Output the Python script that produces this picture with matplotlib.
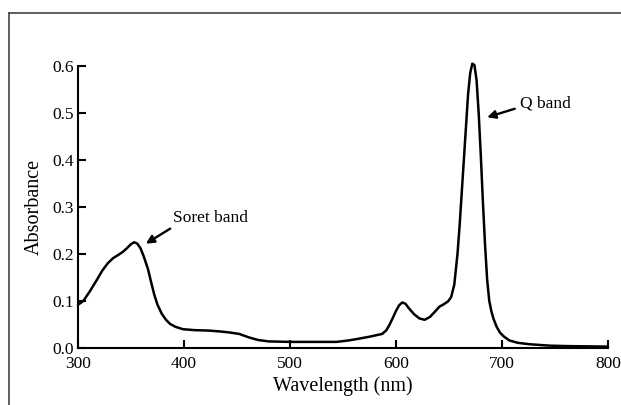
import matplotlib
matplotlib.use("Agg")
import matplotlib.pyplot as plt
from matplotlib.lines import Line2D

wavelength = [300, 305, 311, 317, 323, 328, 333, 338, 342, 346, 350, 353, 356, 359, 362,
              366, 369, 372, 375, 379, 383, 387, 392, 399, 410, 424, 435, 443, 452, 462,
              470, 480, 500, 520, 544, 555, 563, 575, 587, 591, 594, 597, 600, 603, 606,
              609, 612, 617, 622, 627, 632, 637, 641, 645, 649, 652, 655, 658, 660, 662,
              664, 666, 668, 670, 672, 674, 676, 678, 680, 682, 684, 686, 688, 690, 692,
              695, 698, 702, 707, 715, 726, 745, 763, 800]
absorbance = [0.092, 0.100, 0.120, 0.142, 0.165, 0.180, 0.191, 0.198, 0.204, 0.212, 0.221,
              0.225, 0.222, 0.212, 0.195, 0.168, 0.140, 0.113, 0.092, 0.073, 0.060, 0.051,
              0.045, 0.040, 0.038, 0.037, 0.035, 0.033, 0.030, 0.022, 0.017, 0.014, 0.013,
              0.013, 0.013, 0.016, 0.019, 0.024, 0.030, 0.038, 0.050, 0.064, 0.079, 0.091,
              0.097, 0.094, 0.085, 0.072, 0.063, 0.060, 0.066, 0.078, 0.088, 0.093, 0.099,
              0.108, 0.135, 0.20, 0.26, 0.33, 0.40, 0.47, 0.54, 0.585, 0.605, 0.602, 0.57,
              0.50, 0.41, 0.31, 0.22, 0.145, 0.10, 0.078, 0.062, 0.045, 0.033, 0.024, 0.016,
              0.011, 0.008, 0.005, 0.004, 0.003]

x_ticks = [300, 400, 500, 600, 700, 800]
y_ticks = [0.0, 0.1, 0.2, 0.3, 0.4, 0.5, 0.6]

plt.rcParams['font.family'] = ['Liberation Serif', 'DejaVu Serif']

fig = plt.figure(figsize=(6.21, 4.05), dpi=100)
ax = fig.add_axes([78/621, 1-348/405, (608-78)/621, (348-66)/405])

ax.plot(wavelength, absorbance, color='black', lw=1.8, clip_on=False,
        solid_joinstyle='round', solid_capstyle='round')

ax.set_xlim(300, 800)
ax.set_ylim(0, 0.6)
ax.set_xticks(x_ticks)
ax.set_xticklabels([str(t) for t in x_ticks])
ax.set_yticks(y_ticks)
ax.set_yticklabels([f"{t:.1f}" for t in y_ticks])

for s in ['top', 'right']:
    ax.spines[s].set_visible(False)
for s in ['left', 'bottom']:
    ax.spines[s].set_linewidth(1.5)

ax.tick_params(axis='both', direction='in', length=6, width=1.5, labelsize=12.5, pad=3)
ax.tick_params(axis='x', pad=6)

ax.set_xlabel('Wavelength (nm)', fontsize=14.5, labelpad=3)
ax.set_ylabel('Absorbance', fontsize=14.5, labelpad=6)

ax.annotate('', xy=(364, 0.222), xytext=(387, 0.254),
            arrowprops=dict(arrowstyle='-|>', lw=1.7, color='black', mutation_scale=12,
                            shrinkA=0, shrinkB=0))
ax.text(390, 0.276, 'Soret band', fontsize=12.5, va='center', ha='left')

ax.annotate('', xy=(686, 0.491), xytext=(712, 0.509),
            arrowprops=dict(arrowstyle='-|>', lw=1.7, color='black', mutation_scale=12,
                            shrinkA=0, shrinkB=0))
ax.text(717, 0.521, 'Q band', fontsize=12.5, va='center', ha='left')

# outer frame (cut off at right and bottom)
fig.add_artist(Line2D([9/621, 9/621], [0, 1-13/405], transform=fig.transFigure,
                      color='#444444', lw=1.2))
fig.add_artist(Line2D([9/621, 1], [1-13/405, 1-13/405], transform=fig.transFigure,
                      color='#444444', lw=1.2))

fig.savefig('out.png', dpi=100)
